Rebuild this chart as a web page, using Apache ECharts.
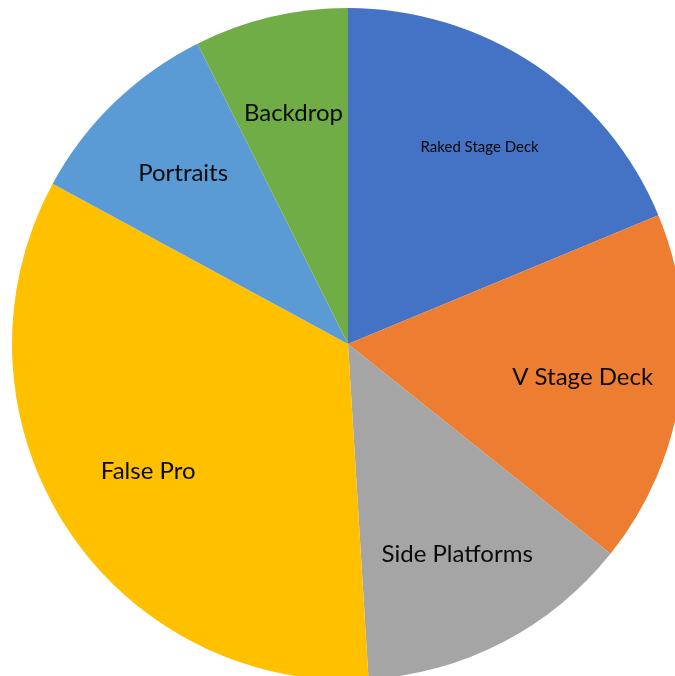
<!DOCTYPE html>
<html>
<head>
<meta charset="utf-8">
<script src="https://cdn.jsdelivr.net/npm/echarts@6/dist/echarts.min.js"></script>
<style>
html,body{margin:0;padding:0;background:#fff;}
#chart{width:675px;height:676px;}
</style>
</head>
<body>
<div id="chart"></div>
<script>
const categories = ['Raked Stage Deck', 'V Stage Deck', 'Side Platforms', 'False Pro', 'Portraits', 'Backdrop'];
const values = [18.75, 17.0, 13.3, 33.9, 9.7, 7.4];
const colors = ['#4472C4', '#ED7D31', '#A5A5A5', '#FFC000', '#5B9BD5', '#70AD47'];
const labelSizes = [15, 24, 24, 24, 24, 24];

const chart = echarts.init(document.getElementById('chart'), null, {renderer: 'canvas'});
const fontFamily = 'Lato, "Open Sans", sans-serif';

const pieData = categories.map((c, i) => ({
  name: c, value: values[i], itemStyle: {color: colors[i]}
}));
const labelData = categories.map((c, i) => ({
  name: c, value: values[i],
  label: {fontSize: labelSizes[i]}
}));

chart.setOption({
  backgroundColor: '#ffffff',
  animation: false,
  series: [
    {
      type: 'pie',
      center: [348, 344],
      radius: [0, 336],
      startAngle: 90,
      clockwise: true,
      silent: true,
      label: {show: false},
      labelLine: {show: false},
      itemStyle: {borderWidth: 0},
      data: pieData
    },
    {
      type: 'pie',
      center: [348, 344],
      radius: [132, 336],
      startAngle: 90,
      clockwise: true,
      silent: true,
      itemStyle: {color: 'rgba(0,0,0,0)', borderWidth: 0},
      label: {
        show: true,
        position: 'inside',
        color: '#0a0a0a',
        fontFamily: fontFamily,
        formatter: '{b}'
      },
      labelLine: {show: false},
      data: labelData
    }
  ]
});
</script>
</body>
</html>
